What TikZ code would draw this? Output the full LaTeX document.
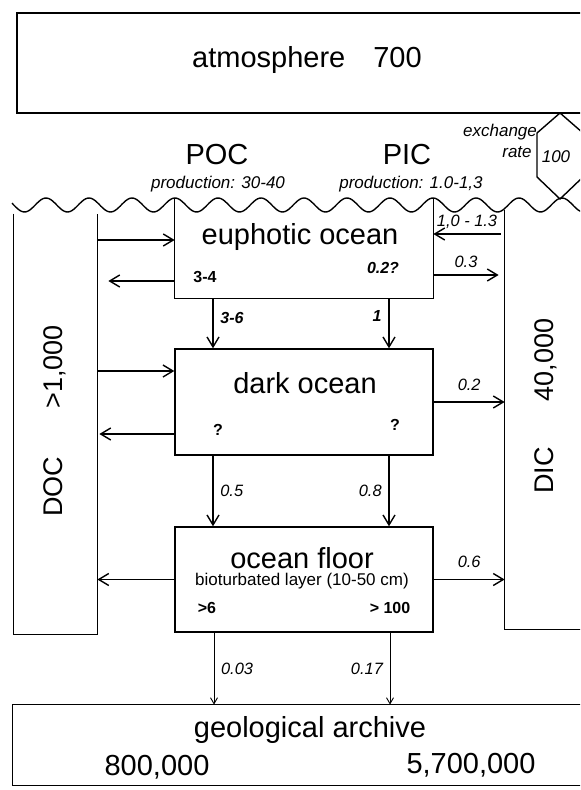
\documentclass[tikz,border=0pt]{standalone}
\usepackage{fontspec}
\setmainfont{Liberation Sans}
\usetikzlibrary{arrows.meta,calc,positioning}

\tikzset{
  flow/.style={-{Straight Barb[length=5pt,width=6pt]}, line width=0.7pt},
  thinflow/.style={-{Straight Barb[length=3pt,width=3.5pt]}, line width=0.45pt},
  box/.style={draw, line width=0.7pt, inner sep=0pt},
  area/.style={inner sep=0pt},
  big/.style={font=\fontsize{14.5}{16}\selectfont},
  side/.style={font=\fontsize{13.5}{15}\selectfont, rotate=90},
  sub/.style={font=\fontsize{8.5}{10}\selectfont\itshape},
  val/.style={font=\fontsize{8.2}{9.5}\selectfont\itshape},
  bval/.style={font=\fontsize{8}{9.5}\selectfont\bfseries},
  bival/.style={font=\fontsize{8}{9.5}\selectfont\bfseries\itshape}
}

\begin{document}
\begin{tikzpicture}[x=0.5pt, y=-0.5pt]
  \useasboundingbox (0,0) rectangle (580,790);
  \clip (0,0) rectangle (580,790);

  % atmosphere and exchange
  \node[box, minimum width=291.5pt, minimum height=50pt] (atm) at (308.5,63) {};
  \node[big] (atmtext) at (307,60) {atmosphere\hspace{14pt}700};
  \draw[line width=0.7pt] (560,113) -- (537,133) -- (537,177) -- (560,199)
    -- (583,177) -- (583,133) -- cycle;
  \coordinate (hex) at (560,156);
  \node[sub] (exch) at (500,132) {exchange};
  \node[sub] (rate) at (517,152) {rate};
  \node[sub] (exval) at (556,157) {100};

  % production
  \node[big] (poc) at (217,155) {POC};
  \node[sub] (pocprod) at (218,184) {production: 30-40};
  \node[big] (pic) at (407,155) {PIC};
  \node[sub] (picprod) at (411,184) {production: 1.0-1,3};

  % sea surface
  \draw[line width=0.7pt] plot[domain=12:590, samples=300, smooth]
    (\x, {205 - 7*cos(((\x-175)/43)*360)});

  % dissolved pools
  \node[area, minimum width=41.5pt, minimum height=210pt] (doc) at (55.5,424) {};
  \draw[line width=0.7pt] (doc.north west) -- (doc.south west) -- (doc.south east) -- (doc.north east);
  \node[side] (doctext) at (55,421) {DOC\hspace{24pt}>1,000};

  \node[area, minimum width=57.5pt, minimum height=209.5pt] (dic) at (562.5,419.5) {};
  \draw[line width=0.7pt] (dic.north west) -- (dic.south west) -- (dic.south east);
  \node[side] (dictext) at (546,406) {DIC\hspace{23pt}40,000};

  % euphotic ocean
  \node[area, minimum width=129pt, minimum height=50pt] (eup) at (304,248) {};
  \draw[line width=0.7pt] (eup.north west) -- (eup.south west) -- (eup.south east) -- (eup.north east);
  \node[big] (euptext) at (300,237) {euphotic ocean};
  \node[bval] (euppoc) at (205,277) {3-4};
  \node[bival] (euppic) at (383,268) {0.2?};

  % dark ocean
  \node[box, minimum width=129pt, minimum height=53pt] (dark) at (304,402) {};
  \node[big] (darktext) at (305,383) {dark ocean};
  \node[bval] (darkpoc) at (218,430) {?};
  \node[bval] (darkpic) at (395,425) {?};

  % ocean floor
  \node[box, minimum width=129pt, minimum height=52.5pt] (floor) at (304,579.5) {};
  \node[big] (floortext) at (302,558) {ocean floor};
  \node[font=\fontsize{8.5}{10}\selectfont] (biolayer) at (302,581) {bioturbated layer (10-50 cm)};
  \node[bval] (floorpoc) at (207,608) {>6};
  \node[bval] (floorpic) at (390,608) {> 100};

  % geological archive
  \node[area, minimum width=303.5pt, minimum height=40pt] (geo) at (316.5,745) {};
  \draw[line width=0.7pt] (geo.north east) -- (geo.north west) -- (geo.south west) -- (geo.south east);
  \node[big] (geotext) at (310,730) {geological archive};
  \node[big] (geopoc) at (157,767) {800,000};
  \node[big] (geopic) at (471,765) {5,700,000};

  % exchange with DOC
  \draw[flow] ($(doc.east|-eup.west)+(0,-8)$) -- ($(eup.west)+(0,-8)$);
  \draw[flow] ($(eup.west)+(0,33)$) -- ($(doc.east|-eup.west)+(11,33)$);
  \draw[flow] ($(doc.east|-dark.west)+(0,-31)$) -- ($(dark.west)+(0,-31)$);
  \draw[flow] ($(dark.west)+(0,32)$) -- ($(doc.east|-dark.west)+(2,32)$);
  \draw[flow] (floor.west) -- (doc.east|-floor.west);

  % exchange with DIC
  \draw[flow] ($(dic.west|-eup.east)+(-4,-14)$) -- node[val, above=-1pt] {1,0 - 1.3} ($(eup.east)+(0,-14)$);
  \draw[flow] ($(eup.east)+(0,27)$) -- node[val, above] {0.3} ($(dic.west|-eup.east)+(-6,27)$);
  \draw[flow] (dark.east) -- node[val, above=2pt] {0.2} (dic.west|-dark.east);
  \draw[flow] (floor.east) -- node[val, above=2pt] {0.6} (dic.west|-floor.east);

  % sinking fluxes
  \draw[flow] ($(eup.south)+(-91,0)$) -- node[bival, right, pos=0.4] {3-6} ($(dark.north)+(-91,0)$);
  \draw[flow] ($(eup.south)+(85,0)$) -- node[bival, left, pos=0.35] {1} ($(dark.north)+(85,0)$);
  \draw[flow] ($(dark.south)+(-91,0)$) -- node[val, right] {0.5} ($(floor.north)+(-91,0)$);
  \draw[flow] ($(dark.south)+(85,0)$) -- node[val, left] {0.8} ($(floor.north)+(85,0)$);
  \draw[thinflow] ($(floor.south)+(-90,0)$) -- node[val, right] {0.03} ($(geo.north)+(-102.5,0)$);
  \draw[thinflow] ($(floor.south)+(86,0)$) -- node[val, left] {0.17} ($(geo.north)+(73.5,0)$);
\end{tikzpicture}
\end{document}
